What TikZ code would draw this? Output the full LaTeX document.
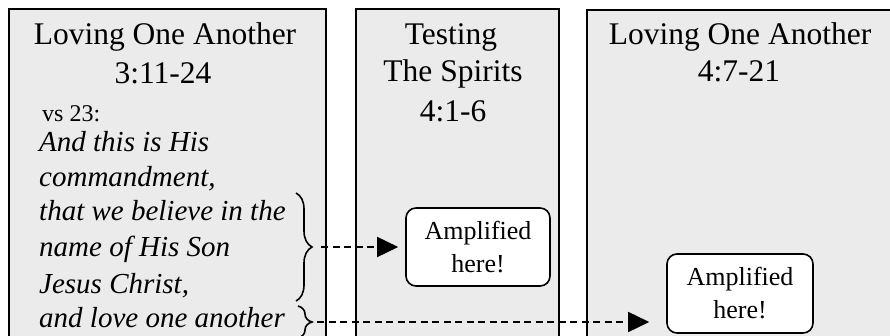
\documentclass[tikz,border=0pt]{standalone}
\usepackage{fontspec}
\setmainfont{Liberation Serif}
\usetikzlibrary{arrows.meta,decorations.pathreplacing}
\definecolor{panelgray}{HTML}{EBEBEB}
\begin{document}
\begin{tikzpicture}[x=1pt,y=-1pt,
  panel/.style={draw=black, line width=1.8pt, fill=panelgray, anchor=north west, inner sep=0pt},
  ttl/.style={anchor=base, font=\fontsize{31.5}{38}\selectfont, inner sep=0pt},
  verse/.style={anchor=base west, font=\fontsize{29}{35}\selectfont\itshape, inner sep=0pt},
  amp/.style={draw=black, line width=1.6pt, fill=white, rounded corners=10pt, align=center, font=\fontsize{26}{33}\selectfont, inner sep=0pt},
  bracepath/.style={decorate, decoration={brace, amplitude=#1}, line width=1.6pt},
  link/.style={line width=1.6pt, dash pattern=on 7pt off 4.5pt, -{Triangle[length=21pt,width=20pt]}}]
\useasboundingbox (0,0) rectangle (890,336);
\clip (0,0) rectangle (890,336);
\fill[white] (0,0) rectangle (890,336);
% panels
\node[panel, minimum width=317pt, minimum height=360pt] (pA) at (8,8) {};
\node[panel, minimum width=203pt, minimum height=360pt] (pB) at (355,8) {};
\node[panel, minimum width=330pt, minimum height=360pt] (pC) at (586,9) {};
% titles
\node[ttl] (tA1) at (165,45) {Loving One Another};
\node[ttl] (tA2) at (163,84) {3:11-24};
\node[ttl] (tB1) at (451,45) {Testing};
\node[ttl] (tB2) at (453,82) {The Spirits};
\node[ttl] (tB3) at (453,122) {4:1-6};
\node[ttl] (tC1) at (740,45) {Loving One Another};
\node[ttl] (tC2) at (739,82) {4:7-21};
% verse
\node[anchor=base west, font=\fontsize{24}{28}\selectfont, inner sep=0pt] (vs) at (42,122) {vs 23:};
\node[verse] (v1) at (39,152) {And this is His};
\node[verse] (v2) at (39,187) {commandment,};
\node[verse] (v3) at (39,221) {that we believe in the};
\node[verse] (v4) at (39,257) {name of His Son};
\node[verse] (v5) at (39,293) {Jesus Christ,};
\node[verse] (v6) at (39,327) {and love one another};
% braces
\draw[bracepath=16pt] (296,193) -- (296,301);
\draw[bracepath=14pt] (298,306) -- (298,338);
\coordinate (b1) at (312,247);
\coordinate (b2) at (312,322);
% amplified boxes
\node[amp, minimum width=144pt, minimum height=78pt] (amp1) at (478,247) {Amplified\\here!};
\node[amp, minimum width=146pt, minimum height=79pt] (amp2) at (740,293.5) {Amplified\\here!};
% connectors
\draw[link, shorten <=9pt, shorten >=7pt] (b1) -- (b1 -| amp1.west);
\draw[link, shorten <=5pt, shorten >=17pt] (b2) -- (b2 -| amp2.west);
\end{tikzpicture}
\end{document}
